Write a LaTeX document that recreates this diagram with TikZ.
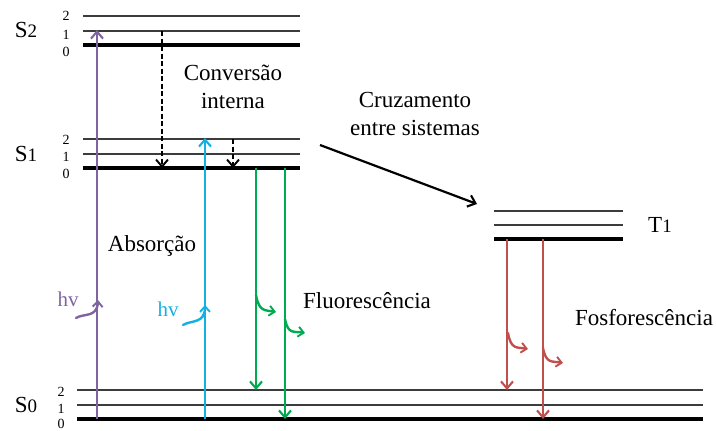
\documentclass[tikz,border=0pt]{standalone}
\usepackage{fontspec}
\setmainfont{Liberation Serif}
\usetikzlibrary{arrows.meta}

\definecolor{absviolet}{RGB}{128,100,162}
\definecolor{abscyan}{RGB}{20,176,228}
\definecolor{fluogreen}{RGB}{0,170,80}
\definecolor{phosred}{RGB}{192,80,77}
\definecolor{levelgray}{RGB}{60,60,60}

\tikzset{
  thinlevel/.style={draw=levelgray, line width=1.4pt},
  groundlevel/.style={draw=black, line width=3.3pt},
  biglabel/.style={font=\fontsize{23}{28}\selectfont, inner sep=0pt, align=center},
  statelabel/.style={font=\fontsize{23}{24}\selectfont, inner sep=0pt},
  vibnum/.style={font=\fontsize{14}{14}\selectfont, inner sep=0pt},
  tip/.style={-{Straight Barb[length=7pt,width=12pt,line width=2.1pt]}},
  transition/.style={tip, line width=2.8pt},
  relax/.style={-{Straight Barb[length=7pt,width=12pt,line width=1.9pt]}, line width=2pt, dash pattern=on 5pt off 2.5pt},
  photon/.style={-{Straight Barb[length=5.5pt,width=10pt,line width=1.9pt]}, line width=2.4pt, line cap=round},
}

\begin{document}
\begin{tikzpicture}[x=1pt, y=-1pt]
\useasboundingbox (0,0) rectangle (716,431);

% ---- S2 levels
\draw[thinlevel] (83,16) -- (300,16);
\draw[thinlevel] (83,31) -- (300,31);
\draw[groundlevel] (83,45) -- (300,45);
% ---- S1 levels
\draw[thinlevel] (83,139) -- (300,139);
\draw[thinlevel] (83,154) -- (300,154);
\draw[groundlevel] (83,168) -- (300,168);
% ---- S0 levels
\draw[thinlevel] (77,390) -- (703,390);
\draw[thinlevel] (77,405) -- (703,405);
\draw[groundlevel] (77,419) -- (703,419);
% ---- T1 levels
\draw[thinlevel] (494,211) -- (623,211);
\draw[thinlevel] (494,225) -- (623,225);
\draw[groundlevel] (494,239) -- (623,239);

% ---- state labels
\node[statelabel] (s2) at (26,30) {S{\fontsize{19}{19}\selectfont 2}};
\node[statelabel] (s1) at (26,154) {S{\fontsize{19}{19}\selectfont 1}};
\node[statelabel] (s0) at (26,405) {S{\fontsize{19}{19}\selectfont 0}};
\node[statelabel] (t1) at (660,225) {T{\fontsize{19}{19}\selectfont 1}};

% ---- vibrational quantum numbers
\node[vibnum] (s2v2) at (66,16) {2};
\node[vibnum] (s2v1) at (66,35) {1};
\node[vibnum] (s2v0) at (66,52) {0};
\node[vibnum] (s1v2) at (66,140) {2};
\node[vibnum] (s1v1) at (66,157) {1};
\node[vibnum] (s1v0) at (66,174) {0};
\node[vibnum] (s0v2) at (61,392) {2};
\node[vibnum] (s0v1) at (61,409) {1};
\node[vibnum] (s0v0) at (61,424) {0};

% ---- end points of the transitions
\coordinate (a1b) at (97,419);  \coordinate (a1t) at (97,30);
\coordinate (a2b) at (205,419); \coordinate (a2t) at (205,138);
\coordinate (c1t) at (162,31);  \coordinate (c1b) at (162,168);
\coordinate (c2t) at (233,139); \coordinate (c2b) at (233,168);
\coordinate (f1t) at (256,168); \coordinate (f1b) at (256,390);
\coordinate (f2t) at (285,168); \coordinate (f2b) at (285,419);
\coordinate (p1t) at (507,239); \coordinate (p1b) at (507,390);
\coordinate (p2t) at (543,239); \coordinate (p2b) at (543,419);
\coordinate (iscA) at (320,145); \coordinate (iscB) at (477,204);

% ---- absorption
\draw[transition, absviolet] (a1b) -- (a1t);
\draw[transition, abscyan] (a2b) -- (a2t);
% ---- internal conversion
\draw[relax] (c1t) -- (c1b);
\draw[relax] (c2t) -- (c2b);
% ---- fluorescence
\draw[transition, fluogreen] (f1t) -- (f1b);
\draw[transition, fluogreen] (f2t) -- (f2b);
% ---- phosphorescence
\draw[transition, phosred] (p1t) -- (p1b);
\draw[transition, phosred] (p2t) -- (p2b);
% ---- intersystem crossing
\draw[transition, black, line width=2.2pt] (iscA) -- (iscB);

% ---- incoming photons
\coordinate (hv1s) at (76,318);  \coordinate (hv1e) at (98,300);
\coordinate (hv2s) at (183,325); \coordinate (hv2e) at (205,305);
\draw[photon, absviolet] (hv1s) .. controls (84,313) and (97,318) .. (hv1e);
\draw[photon, abscyan] (hv2s) .. controls (191,320) and (205,324) .. (hv2e);
\node[font=\fontsize{21}{21}\selectfont, text=absviolet, inner sep=0pt] (hv1) at (68,299) {hv};
\node[font=\fontsize{21}{21}\selectfont, text=abscyan, inner sep=0pt] (hv2) at (168,309) {hv};

% ---- emitted photons
\coordinate (e1s) at (256,295); \coordinate (e1e) at (276,312);
\coordinate (e2s) at (285,319); \coordinate (e2e) at (305,333);
\coordinate (e3s) at (508,333); \coordinate (e3e) at (528,349);
\coordinate (e4s) at (543,348); \coordinate (e4e) at (563,363);
\draw[photon, fluogreen] (e1s) .. controls (259,312) and (265,310) .. (e1e);
\draw[photon, fluogreen] (e2s) .. controls (288,335) and (294,331) .. (e2e);
\draw[photon, phosred] (e3s) .. controls (511,350) and (517,347) .. (e3e);
\draw[photon, phosred] (e4s) .. controls (546,364) and (552,361) .. (e4e);

% ---- process labels
\node[biglabel] (ci) at (233,87) {Conversão\\interna};
\node[biglabel] (isc) at (415,114) {Cruzamento\\entre sistemas};
\node[biglabel] (abs) at (152,246) {Absorção};
\node[biglabel] (fluo) at (367,301) {Fluorescência};
\node[biglabel] (phos) at (644,318) {Fosforescência};
\end{tikzpicture}
\end{document}
